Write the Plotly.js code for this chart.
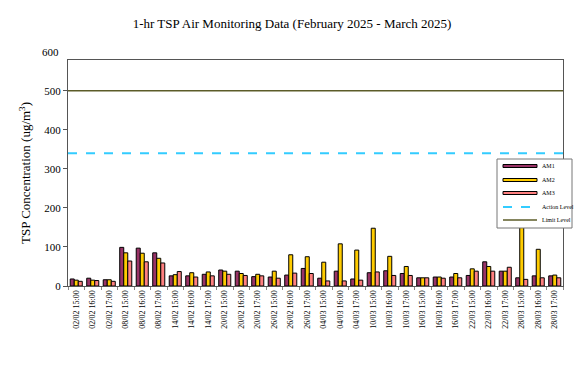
<!DOCTYPE html>
<html>
<head>
<meta charset="utf-8">
<script src="https://cdn.plot.ly/plotly-3.0.1.min.js"></script>
<style>
html,body{margin:0;padding:0;background:#fff;}
#chart{width:576px;height:380px;outline:1px solid #555;outline-offset:-1px;}
</style>
</head>
<body>
<div id="chart"></div>
<script>
const categories = [
  "02/02 15:00","02/02 16:00","02/02 17:00",
  "08/02 15:00","08/02 16:00","08/02 17:00",
  "14/02 15:00","14/02 16:00","14/02 17:00",
  "20/02 15:00","20/02 16:00","20/02 17:00",
  "26/02 15:00","26/02 16:00","26/02 17:00",
  "04/03 15:00","04/03 16:00","04/03 17:00",
  "10/03 15:00","10/03 16:00","10/03 17:00",
  "16/03 15:00","16/03 16:00","16/03 17:00",
  "22/03 15:00","22/03 16:00","22/03 17:00",
  "28/03 15:00","28/03 16:00","28/03 17:00"
];
const am1 = [18,20,16, 99,97,85, 26,26,30, 41,38,24, 23,28,45, 20,38,18, 34,39,32, 21,23,23, 27,62,38, 21,26,26];
const am2 = [15,15,16, 85,84,71, 29,34,36, 38,32,30, 38,80,75, 61,108,92, 148,76,50, 21,23,32, 44,50,38, 200,94,28];
const am3 = [12,14,12, 64,62,59, 37,23,26, 30,27,26, 20,33,32, 13,13,15, 36,27,27, 21,20,21, 38,38,48, 17,21,21];
const actionLevel = 340;
const limitLevel = 500;
const yTicks = [0,100,200,300,400,500];
const yTopTick = 600;
const yMax = 579;
const seriesNames = ["AM1","AM2","AM3","Action Level","Limit Level"];
const seriesColors = ["#993366","#FFCC00","#FF8080","#33CCFF","#5c5c29"];

const serif = "Liberation Serif, Times New Roman, serif";
const outline = {color:'#000', width:1};

const traces = [
  {type:'bar', name:seriesNames[0], x:categories, y:am1, marker:{color:seriesColors[0], line:outline}},
  {type:'bar', name:seriesNames[1], x:categories, y:am2, marker:{color:seriesColors[1], line:outline}},
  {type:'bar', name:seriesNames[2], x:categories, y:am3, marker:{color:seriesColors[2], line:outline}},
  {type:'scatter', mode:'lines', name:seriesNames[3], xaxis:'x2', x:[0,1], y:[actionLevel,actionLevel],
   line:{color:seriesColors[3], width:2, dash:'dash'}, hoverinfo:'skip'},
  {type:'scatter', mode:'lines', name:seriesNames[4], xaxis:'x2', x:[0,1], y:[limitLevel,limitLevel],
   line:{color:seriesColors[4], width:1.5}, hoverinfo:'skip'}
];

// plot area in pixels (for legend placement)
const PL = 68, PR = 563, PT = 60, PB = 286;
const px = v => (v - PL) / (PR - PL);
const py = v => (PB - v) / (PB - PT);

const shapes = [
  {type:'rect', xref:'paper', yref:'paper', x0:px(497), x1:px(572), y0:py(228), y1:py(159),
   fillcolor:'#fff', line:{color:'#777', width:1}}
];
const annotations = [
  {xref:'paper', yref:'paper', x:0, y:yTopTick / yMax, text:String(yTopTick), showarrow:false,
   xanchor:'right', yanchor:'middle', xshift:-7, font:{size:11, family:serif, color:'#000'}}
];
const rowY = [166, 180, 193, 207, 220];
seriesNames.forEach((nm, i) => {
  const yy = rowY[i];
  if (i < 3) {
    shapes.push({type:'rect', xref:'paper', yref:'paper', x0:px(503), x1:px(537), y0:py(yy+1.5), y1:py(yy-1.5),
      fillcolor:seriesColors[i], line:{color:'#000', width:1}});
  } else {
    shapes.push({type:'line', xref:'paper', yref:'paper', x0:px(503), x1:px(537), y0:py(yy), y1:py(yy),
      line:{color:seriesColors[i], width:i===3?2:1.5, dash:i===3?'dash':'solid'}});
  }
  annotations.push({xref:'paper', yref:'paper', x:px(540), y:py(yy), text:nm, showarrow:false,
    xanchor:'left', yanchor:'middle', font:{size:6, family:serif, color:'#000'}});
});

const layout = {
  width:576, height:380,
  margin:{l:PL, r:576-PR, t:PT, b:380-PB},
  paper_bgcolor:'#fff', plot_bgcolor:'#fff',
  font:{family:serif, color:'#000'},
  title:{text:'1-hr TSP Air Monitoring Data (February 2025 - March 2025)', font:{size:13, family:serif, color:'#000'},
         x:0.507, xanchor:'center', y:0.937, yanchor:'middle'},
  barmode:'group', bargap:0.27, bargroupgap:0,
  showlegend:false,
  xaxis:{type:'category', categoryorder:'array', categoryarray:categories, tickangle:-90,
         tickfont:{size:8, family:serif}, showline:true, linecolor:'#555', linewidth:1, mirror:true,
         ticks:'outside', ticklen:3, tickcolor:'#888', tickson:'boundaries', showgrid:false, zeroline:false},
  xaxis2:{overlaying:'x', range:[0,1], visible:false, showgrid:false, zeroline:false},
  yaxis:{range:[0,yMax], tickvals:yTicks, ticktext:yTicks.map(String), tickfont:{size:11, family:serif},
         showline:true, linecolor:'#555', linewidth:1, mirror:true, ticks:'outside', ticklen:4, tickcolor:'#555',
         showgrid:false, zeroline:false,
         title:{text:'TSP Concentration (ug/m<sup>3</sup>)', font:{size:13, family:serif}, standoff:10}},
  shapes:shapes,
  annotations:annotations
};

Plotly.newPlot('chart', traces, layout, {displayModeBar:false, staticPlot:true});
</script>
</body>
</html>
